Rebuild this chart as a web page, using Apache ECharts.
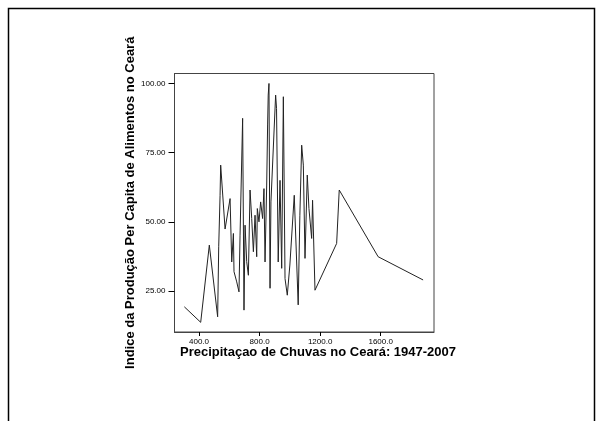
<!DOCTYPE html>
<html>
<head>
<meta charset="utf-8">
<script src="https://cdn.jsdelivr.net/npm/echarts@6/dist/echarts.min.js"></script>
<style>html,body{margin:0;padding:0;background:#fff;}#c{width:598px;height:421px;}</style>
</head>
<body>
<div id="c"></div>
<script>
const precipitacao = [303, 411, 468, 523, 530, 539, 543, 572, 605, 616, 627, 631, 649, 664, 671, 688, 697, 704, 715, 726, 737, 748, 759, 770, 781, 785, 796, 807, 820, 829, 836, 847, 853, 857, 862, 869, 875, 906, 912, 923, 935, 946, 957, 968, 983, 1000, 1029, 1055, 1066, 1078, 1089, 1100, 1115, 1126, 1144, 1150, 1166, 1309, 1326, 1583, 1880];
const indiceProducao = [19.3, 13.7, 41.6, 15.7, 41.0, 59.6, 70.5, 47.4, 58.4, 35.5, 45.8, 32.0, 28.3, 24.7, 45.2, 87.4, 18.1, 48.8, 35.6, 30.7, 61.5, 51.2, 39.2, 52.4, 37.4, 54.8, 50.0, 57.2, 51.2, 62.0, 35.5, 63.3, 85.0, 95.8, 100.0, 26.0, 57.2, 95.8, 91.0, 35.5, 65.0, 33.2, 95.2, 29.5, 23.5, 34.4, 59.6, 20.0, 52.4, 77.7, 70.5, 36.8, 66.9, 54.8, 44.0, 57.8, 25.3, 42.2, 61.5, 37.4, 29.0];
const yTicks = [25, 50, 75, 100];
const xTicks = [400, 800, 1200, 1600];

const chart = echarts.init(document.getElementById('c'), null, {renderer: 'canvas'});
const data = precipitacao.map((p, i) => [p, indiceProducao[i]]);
const axisColor = '#444';
chart.setOption({
  animation: false,
  backgroundColor: '#fff',
  grid: {left: 174.5, top: 73.5, right: 164, bottom: 89, show: true, borderColor: axisColor, borderWidth: 1, backgroundColor: 'transparent'},
  xAxis: {
    type: 'value', min: 238, max: 1952,
    axisLine: {show: true, lineStyle: {color: axisColor, width: 1}},
    axisTick: {show: true, length: 4, lineStyle: {color: '#000'}, customValues: xTicks},
    axisLabel: {fontSize: 8, color: '#000', fontFamily: 'Liberation Sans', margin: 6, customValues: xTicks, formatter: v => v.toFixed(1)},
    splitLine: {show: false}
  },
  yAxis: {
    type: 'value', min: 10.2, max: 103.6,
    name: 'Indice da Produção Per Capita de Alimentos no Ceará',
    nameLocation: 'middle', nameGap: 34,
    nameTextStyle: {fontSize: 13, fontWeight: 'bold', color: '#000', fontFamily: 'Liberation Sans'},
    axisLine: {show: true, lineStyle: {color: axisColor, width: 1}},
    axisTick: {show: true, length: 6, lineStyle: {color: '#000'}, customValues: yTicks},
    axisLabel: {fontSize: 8, color: '#000', fontFamily: 'Liberation Sans', margin: 9, customValues: yTicks, formatter: v => v.toFixed(2)},
    splitLine: {show: false}
  },
  graphic: [
    {type: 'rect', left: 6, top: 6, shape: {width: 586, height: 440}, style: {fill: 'none', stroke: '#000', lineWidth: 1.5}, silent: true},
    {type: 'text', left: 180, top: 346, style: {text: 'Precipitaçao de Chuvas no Ceará: 1947-2007', font: 'bold 13px "Liberation Sans"', fill: '#000'}}
  ],
  series: [{
    type: 'line', data: data, symbol: 'none',
    lineStyle: {color: '#222', width: 1}
  }]
});
</script>
</body>
</html>
